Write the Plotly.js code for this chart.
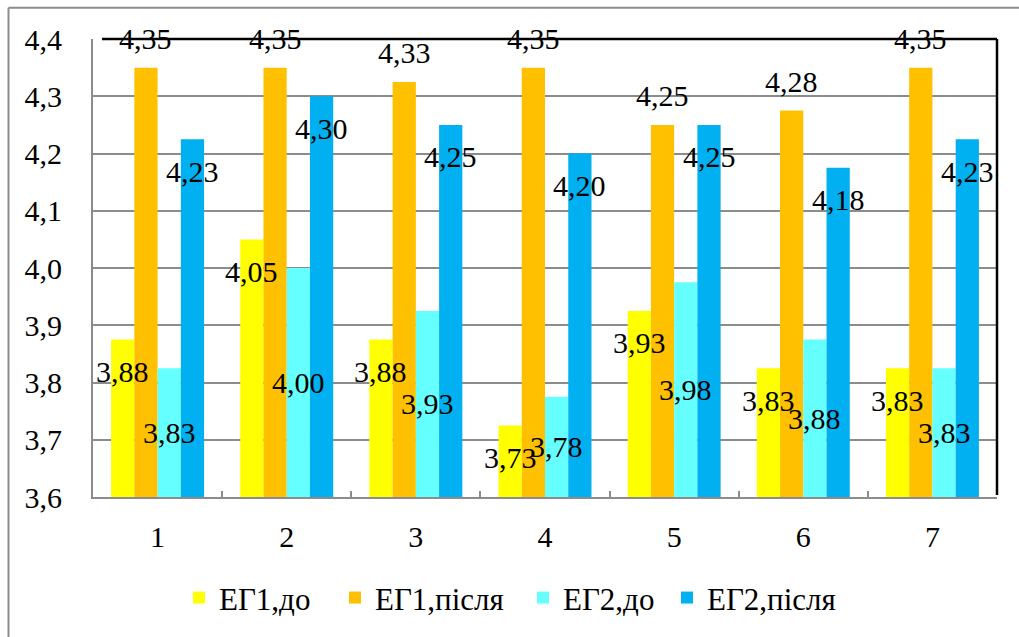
<!DOCTYPE html>
<html>
<head>
<meta charset="utf-8">
<script src="https://cdn.plot.ly/plotly-3.0.1.min.js"></script>
<style>html,body{margin:0;padding:0;background:#fff;}#chart{width:1019px;height:637px;}</style>
</head>
<body>
<div id="chart"></div>
<script>
const categories = ['1', '2', '3', '4', '5', '6', '7'];
const eg1Before = [3.875, 4.05, 3.875, 3.725, 3.925, 3.825, 3.825];
const eg1After  = [4.35, 4.35, 4.325, 4.35, 4.25, 4.275, 4.35];
const eg2Before = [3.825, 4.00, 3.925, 3.775, 3.975, 3.875, 3.825];
const eg2After  = [4.225, 4.30, 4.25, 4.20, 4.25, 4.175, 4.225];
const seriesNames = ['ЕГ1,до', 'ЕГ1,після', 'ЕГ2,до', 'ЕГ2,після'];

const series = [eg1Before, eg1After, eg2Before, eg2After];
const colors = ['#FFFF00', '#FFC000', '#66FFFF', '#00B0F0'];
const FONT = 'Liberation Serif, Times New Roman, serif';
const yMin = 3.6, yMax = 4.4;

const W = 1019, H = 637;
const M = {l: 93, r: 22, t: 39, b: 135};
const PW = W - M.l - M.r, PH = H - M.t - M.b;
const px2x = p => (p - M.l) / PW;
const px2y = p => (H - M.b - p) / PH;

const bargap = 0.28;
const barW = (1 - bargap) / series.length;
const legendNames = ['legend', 'legend2', 'legend3', 'legend4'];

const traces = series.map((vals, i) => ({
  type: 'bar',
  name: seriesNames[i],
  x: categories,
  y: vals,
  marker: {color: colors[i], line: {width: 0}},
  legend: legendNames[i],
  hoverinfo: 'x+y'
}));

function fmt(v) {
  return (Math.round(v * 100 + 1e-6) / 100).toFixed(2).replace('.', ',');
}

// label placement style per series: 'insideEnd', 'outsideEnd', 'center'
const labelStyle = ['insideEnd', 'outsideEnd', 'center', 'insideEnd'];
const annotations = [];
series.forEach((vals, i) => {
  const off = (i - (series.length - 1) / 2) * barW;
  vals.forEach((v, j) => {
    let y = v, ys = 0;
    if (labelStyle[i] === 'insideEnd') ys = -32;
    else if (labelStyle[i] === 'outsideEnd') ys = 29;
    else y = (v + yMin) / 2;
    annotations.push({
      x: j + off, y: y, xref: 'x', yref: 'y', yshift: ys,
      text: fmt(v), showarrow: false, xanchor: 'center', yanchor: 'middle',
      font: {family: FONT, size: 30, color: '#000'}
    });
  });
});

const textStarts = [219, 375, 563, 707];
const legendY = px2y(604);
const legends = {};
legendNames.forEach((ln, i) => {
  legends[ln] = {
    x: px2x(textStarts[i] - 40), xanchor: 'left',
    y: legendY, yanchor: 'middle',
    orientation: 'h', bgcolor: 'rgba(0,0,0,0)', borderwidth: 0,
    font: {family: FONT, size: 31, color: '#000'}
  };
});

const grey = '#8c8c8c';
const shapes = [
  // outer chart border (left + top)
  {type: 'line', xref: 'paper', yref: 'paper', x0: px2x(8.5), x1: px2x(8.5), y0: px2y(700), y1: px2y(7.5), line: {color: grey, width: 2}},
  {type: 'line', xref: 'paper', yref: 'paper', x0: px2x(8.5), x1: px2x(1100), y0: px2y(7.5), y1: px2y(7.5), line: {color: grey, width: 2}},
  // black top and right frame of plot area
  {type: 'line', xref: 'paper', yref: 'paper', x0: px2x(102), x1: 1, y0: 1, y1: 1, line: {color: '#000', width: 2.5}, layer: 'above'},
  {type: 'line', xref: 'paper', yref: 'paper', x0: 1, x1: 1, y0: px2y(500), y1: 1, line: {color: '#000', width: 2.5}, layer: 'above'}
];

const layout = Object.assign({
  width: W, height: H,
  margin: M,
  paper_bgcolor: '#fff', plot_bgcolor: '#fff',
  separators: ', ',
  barmode: 'group', bargap: bargap, bargroupgap: 0,
  font: {family: FONT, size: 30, color: '#000'},
  xaxis: {
    type: 'category',
    showgrid: false,
    showline: true, linecolor: grey, linewidth: 2,
    ticks: 'inside', tickson: 'boundaries', ticklen: 6, tickcolor: grey, tickwidth: 2,
    tickfont: {family: FONT, size: 30, color: '#000'},
    ticklabelstandoff: 12,
    fixedrange: true
  },
  yaxis: {
    range: [yMin, yMax], dtick: 0.1, tick0: yMin, tickformat: '.1f',
    showgrid: true, gridcolor: grey, gridwidth: 2,
    showline: true, linecolor: grey, linewidth: 2,
    zeroline: false, ticks: '',
    tickfont: {family: FONT, size: 30, color: '#000'},
    ticklabelstandoff: 23,
    fixedrange: true
  },
  showlegend: true,
  annotations: annotations,
  shapes: shapes
}, legends);

Plotly.newPlot('chart', traces, layout, {displayModeBar: false, staticPlot: true});
</script>
</body>
</html>
